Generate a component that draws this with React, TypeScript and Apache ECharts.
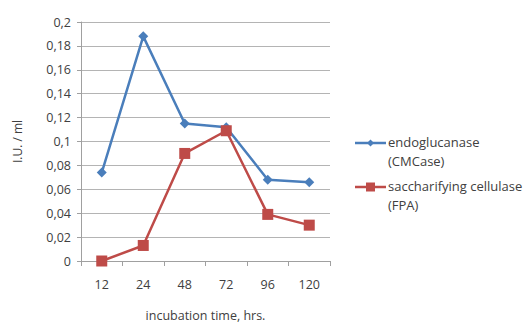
import React, { useEffect, useRef } from "react";
import * as echarts from "echarts";

const categories = ["12", "24", "48", "72", "96", "120"];
const seriesNames = ["endoglucanase\n(CMCase)", "saccharifying cellulase\n(FPA)"];
const endoglucanase = [0.074, 0.188, 0.115, 0.112, 0.068, 0.066];
const saccharifying = [0.0, 0.013, 0.09, 0.109, 0.039, 0.03];
const colors = ["#4a7ebb", "#be4b48"];
const yAxisName = "I.U. / ml";
const xAxisName = "incubation time, hrs.";

export default function App() {
  const ref = useRef<HTMLDivElement>(null);
  useEffect(() => {
    document.body.style.margin = "0";
    const chart = echarts.init(ref.current!, null, { renderer: "svg" });
    const font = "'Open Sans', 'Liberation Sans', sans-serif";
    const textColor = "#404040";
    chart.setOption({
      animation: false,
      textStyle: { fontFamily: font },
      grid: { left: 81, right: 196, top: 22, bottom: 64 },
      xAxis: {
        type: "category",
        data: categories,
        boundaryGap: true,
        name: xAxisName,
        nameLocation: "middle",
        nameGap: 48,
        nameTextStyle: { color: textColor, fontSize: 12.5, fontFamily: font },
        axisLine: { lineStyle: { color: "#a0a0a0" } },
        axisTick: { show: true, length: 5, alignWithLabel: false, lineStyle: { color: "#a0a0a0" } },
        axisLabel: { color: textColor, fontSize: 12.5, margin: 17, fontFamily: font },
        splitLine: { show: false },
      },
      yAxis: {
        type: "value",
        min: 0,
        max: 0.2,
        interval: 0.02,
        name: yAxisName,
        nameLocation: "middle",
        nameGap: 58,
        nameRotate: 90,
        nameTextStyle: { color: textColor, fontSize: 12, fontFamily: font },
        axisLine: { show: true, lineStyle: { color: "#a0a0a0" } },
        axisTick: { show: true, length: 4, lineStyle: { color: "#a0a0a0" } },
        axisLabel: {
          color: textColor,
          fontSize: 12.5,
          margin: 10,
          fontFamily: font,
          formatter: (v: number) => String(Number(v.toFixed(2))).replace(".", ","),
        },
        splitLine: { show: true, lineStyle: { color: "#b4b4b4" } },
      },
      series: [
        {
          name: seriesNames[0],
          type: "line",
          data: endoglucanase,
          symbol: "diamond",
          symbolSize: 10,
          lineStyle: { color: colors[0], width: 2.5 },
          itemStyle: { color: colors[0] },
        },
        {
          name: seriesNames[1],
          type: "line",
          data: saccharifying,
          symbol: "rect",
          symbolSize: 11,
          lineStyle: { color: colors[1], width: 2.5 },
          itemStyle: { color: colors[1] },
        },
      ],
      graphic: [
        { type: "line", shape: { x1: 355, y1: 143, x2: 386, y2: 143 }, style: { stroke: colors[0], lineWidth: 2.5 } },
        { type: "polygon", shape: { points: [[370.5, 139.5], [374, 143], [370.5, 146.5], [367, 143]] }, style: { fill: colors[0] } },
        { type: "text", x: 388, y: 132, style: { text: seriesNames[0], font: `13px ${font}`, fill: textColor, lineHeight: 19 } },
        { type: "line", shape: { x1: 355, y1: 187, x2: 386, y2: 187 }, style: { stroke: colors[1], lineWidth: 2.5 } },
        { type: "rect", shape: { x: 366, y: 182.5, width: 9, height: 9 }, style: { fill: colors[1] } },
        { type: "text", x: 388, y: 176, style: { text: seriesNames[1], font: `13px ${font}`, fill: textColor, lineHeight: 19 } },
      ],
    });
    return () => chart.dispose();
  }, []);
  return <div ref={ref} style={{ width: 526, height: 327 }} />;
}
